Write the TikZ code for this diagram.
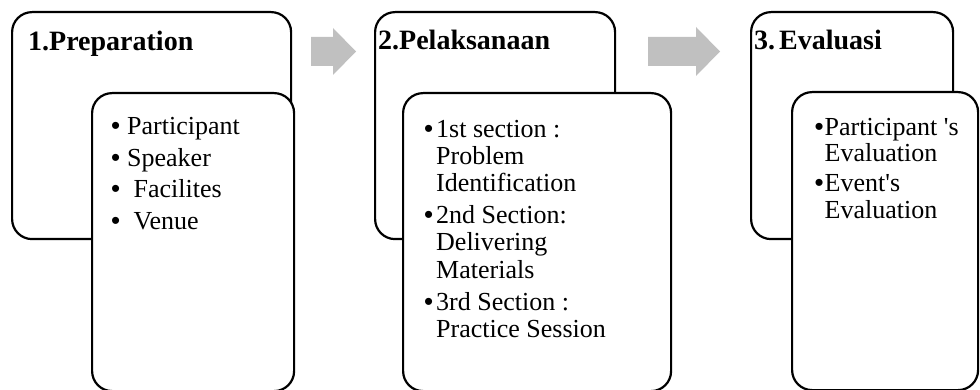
\documentclass[tikz,border=0pt]{standalone}
\usepackage{fontspec}
\setmainfont{Liberation Serif}
\newfontfamily\bulletfont{Liberation Sans}
\definecolor{arrowgray}{RGB}{192,192,192}
\begin{document}
\begin{tikzpicture}[x=1pt,y=-1pt,
  panel/.style={draw=black, fill=white, line width=2.2pt, rounded corners=20pt, anchor=north west, inner sep=0pt},
  title/.style={anchor=base west, inner sep=0pt, font=\fontsize{28}{30}\selectfont\bfseries},
  body/.style={anchor=base west, inner sep=0pt, font=\fontsize{26}{27}\selectfont},
  blt/.style={anchor=base west, inner sep=0pt, font=\fontsize{26}{27}\bulletfont}]
\useasboundingbox (0,0) rectangle (980,390);
% block arrows
\fill[arrowgray] (311,37) -- (333,37) -- (333,28) -- (356,51.5) -- (333,75) -- (333,66) -- (311,66) -- cycle;
\fill[arrowgray] (648,37) -- (696,37) -- (696,27) -- (720,51.5) -- (696,76) -- (696,66) -- (648,66) -- cycle;
% panel 1
\node[panel, minimum width=279pt, minimum height=227pt] (o1) at (11,11) {};
\node[panel, minimum width=202pt, minimum height=298pt] (i1) at (91,92) {};
\node[title] (t1) at (28,50.7) {1.Preparation};
\node[blt] (b1a) at (111,134.5) {•};
\node[body] (l1a) at (127,134.5) {Participant};
\node[blt] (b1b) at (111,166.5) {•};
\node[body] (l1b) at (127,166.5) {Speaker};
\node[blt] (b1c) at (111,197.8) {•};
\node[body] (l1c) at (133.5,197.8) {Facilites};
\node[blt] (b1d) at (111,229.5) {•};
\node[body] (l1d) at (133.5,229.5) {Venue};
% panel 2
\node[panel, minimum width=240pt, minimum height=227pt] (o2) at (374,11) {};
\node[panel, minimum width=268pt, minimum height=298pt] (i2) at (402,92) {};
\node[title] (t2) at (378,49.5) {2.Pelaksanaan};
\node[blt] (b2a) at (424,137.3) {•};
\node[body] (l2a) at (436,137.3) {1st section :};
\node[body] (l2b) at (436,164.5) {Problem};
\node[body] (l2c) at (436,191.7) {Identification};
\node[blt] (b2d) at (424,223.3) {•};
\node[body] (l2d) at (436,223.3) {2nd Section:};
\node[body] (l2e) at (436,250.5) {Delivering};
\node[body] (l2f) at (436,278) {Materials};
\node[blt] (b2g) at (424,310) {•};
\node[body] (l2g) at (436,310) {3rd Section :};
\node[body] (l2h) at (436,337.5) {Practice Session};
% panel 3
\node[panel, minimum width=202pt, minimum height=227pt] (o3) at (750,11) {};
\node[panel, minimum width=186pt, minimum height=298pt] (i3) at (791,91) {};
\node[title] (t3) at (754,49.5) {3.\hspace{4pt}Evaluasi};
\node[blt] (b3a) at (814.5,135.5) {•};
\node[body] (l3a) at (824.5,135.5) {Participant \textquotesingle s};
\node[body] (l3b) at (824.5,162) {Evaluation};
\node[blt] (b3c) at (814.5,191.7) {•};
\node[body] (l3c) at (824.5,191.7) {Event\textquotesingle s};
\node[body] (l3d) at (824.5,218.5) {Evaluation};
\end{tikzpicture}
\end{document}
